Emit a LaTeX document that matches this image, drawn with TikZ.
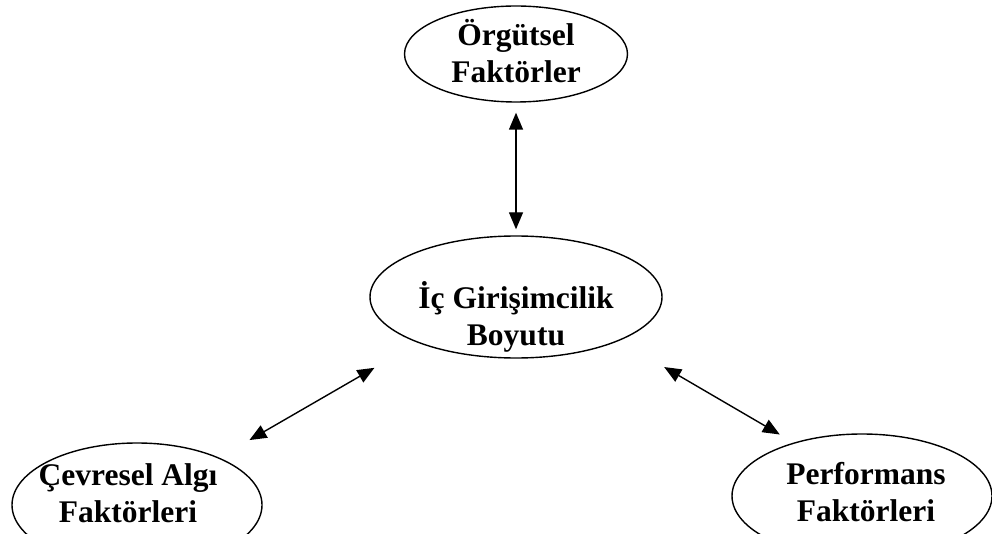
\documentclass[tikz,border=0pt]{standalone}
\usepackage{fontspec}
\setmainfont{Liberation Serif}
\usetikzlibrary{arrows.meta, shapes.geometric}

\begin{document}
\begin{tikzpicture}[x=1pt, y=1pt,
    factor/.style={ellipse, draw, line width=1.4pt, inner sep=0pt},
    lbl/.style={align=center, inner sep=0pt, font=\fontsize{31.5}{37}\selectfont\bfseries},
    link/.style={{Triangle[length=17pt,width=14pt]}-{Triangle[length=17pt,width=14pt]}, line width=1.4pt}]

    \clip (0,0) rectangle (992,-534);

    % Define the ellipses with coordinates
    \node[factor, minimum width=223pt, minimum height=96pt] (org) at (516,-54) {};
    \node[factor, minimum width=292pt, minimum height=122pt] (ic) at (516,-297) {};
    \node[factor, minimum width=250pt, minimum height=124pt] (cev) at (137,-505) {};
    \node[factor, minimum width=260pt, minimum height=124pt] (perf) at (862,-496) {};
    % Texts inside the ellipses
    \node[lbl] (orgT) at ([yshift=3pt]org) {\"Org\"utsel\\Fakt\"orler};
    \node[lbl] (icT) at ([yshift=-20pt]ic) {İç Girişimcilik\\Boyutu};
    \node[lbl] (cevT) at ([xshift=-9pt,yshift=12pt]cev) {Çevresel Algı\\Faktörleri};
    \node[lbl] (perfT) at ([xshift=4pt,yshift=4pt]perf) {Performans\\Faktörleri};
    % Draw the double arrows between the ellipses
    \draw[link, shorten <=10pt, shorten >=6pt] (org.south) -- (ic.north);
    \draw[link, shorten <=35pt, shorten >=50pt] (cev.30) -- (ic.205);
    \draw[link, shorten <=52pt, shorten >=16pt] (ic.-23) -- (perf.142);
\end{tikzpicture}
\end{document}
